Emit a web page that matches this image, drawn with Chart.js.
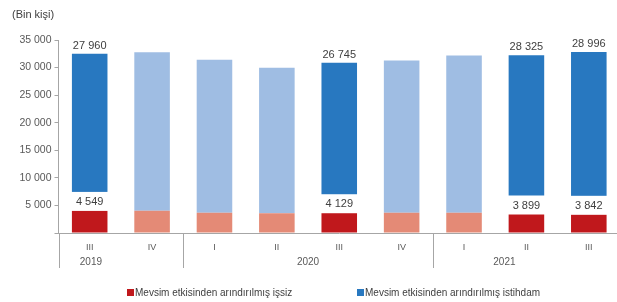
<!DOCTYPE html>
<html>
<head>
<meta charset="utf-8">
<script src="https://cdn.jsdelivr.net/npm/chart.js@4"></script>
<style>
  html, body { margin: 0; padding: 0; background: #fff; }
  #wrap { width: 617px; height: 302px; overflow: hidden; }
  canvas { display: block; }
</style>
</head>
<body>
<div id="wrap"><canvas id="chart" width="622" height="302"></canvas></div>
<script>
// Çeyrekler ve yıllar
const quarters = ["III", "IV", "I", "II", "III", "IV", "I", "II", "III"];
const years = ["2019", "2020", "2021"];
const yearSpans = [2, 4, 3];

// Bin kişi
const unemployed = [4549, 4050, 3650, 3600, 4129, 3650, 3650, 3899, 3842];
const employed = [27960, 28750, 27750, 26350, 26745, 27650, 28550, 28325, 28996];
const labelled = [true, false, false, false, true, false, false, true, true];

const seriesNames = ["Mevsim etkisinden arındırılmış işsiz", "Mevsim etkisinden arındırılmış istihdam"];

const FONT = "'Liberation Sans', Arial, sans-serif";
const TEXT = "#404040";
const LINE = "#a6a6a6";
const darkRed = "#c0181c", lightRed = "#e48a76";
const darkBlue = "#2878c0", lightBlue = "#9fbde3";

const fmt = (n) => String(n).replace(/\B(?=(\d{3})+(?!\d))/g, " ");

// Değer etiketleri (beyaz kutulu alt etiket + üst etiket)
const valueLabels = {
  id: "valueLabels",
  afterDatasetsDraw: (chart) => {
    const ctx = chart.ctx;
    const red = chart.getDatasetMeta(0).data;
    const blue = chart.getDatasetMeta(1).data;
    ctx.save();
    ctx.font = `11px ${FONT}`;
    ctx.textAlign = "center";
    ctx.textBaseline = "middle";
    labelled.forEach((on, i) => {
      if (!on) return;
      const r = red[i];
      const b = blue[i];
      const boxBottom = r.y + 3;
      ctx.fillStyle = "#fff";
      ctx.fillRect(r.x - r.width / 2 - 1, boxBottom - 19, r.width + 2, 19);
      ctx.fillStyle = TEXT;
      ctx.fillText(fmt(unemployed[i]), r.x, boxBottom - 9);
      ctx.fillText(fmt(employed[i]), b.x, b.y - 8);
    });
    ctx.restore();
  }
};

// Yıl grupları, ayraç çizgileri, lejant
const groupsAndLegend = {
  id: "groupsAndLegend",
  afterDraw: (chart) => {
    const ctx = chart.ctx;
    const x = chart.scales.x;
    const area = chart.chartArea;
    const step = x.getPixelForValue(1) - x.getPixelForValue(0);
    ctx.save();
    ctx.strokeStyle = LINE;
    ctx.lineWidth = 1;
    let start = 0;
    const yearShift = [-30, 0, -22];
    years.forEach((yr, g) => {
      const left = x.getPixelForValue(start) - step / 2;
      const right = x.getPixelForValue(start + yearSpans[g] - 1) + step / 2;
      const px = Math.round(left) + 0.5;
      ctx.beginPath();
      ctx.moveTo(px, area.bottom);
      ctx.lineTo(px, area.bottom + 35);
      ctx.stroke();
      ctx.fillStyle = "#595959";
      ctx.font = `10px ${FONT}`;
      ctx.textAlign = "center";
      ctx.textBaseline = "middle";
      ctx.fillText(yr, (left + right) / 2 + yearShift[g], area.bottom + 29);
      start += yearSpans[g];
    });

    // lejant
    const items = [
      { x: 127, color: darkRed, text: seriesNames[0] },
      { x: 357, color: darkBlue, text: seriesNames[1] }
    ];
    ctx.font = `10px ${FONT}`;
    ctx.textAlign = "left";
    items.forEach((it) => {
      ctx.fillStyle = it.color;
      ctx.fillRect(it.x, 289, 7, 7);
      ctx.fillStyle = TEXT;
      ctx.fillText(it.text, it.x + 8, 293);
    });
    ctx.restore();
  }
};

new Chart(document.getElementById("chart"), {
  type: "bar",
  data: {
    labels: quarters,
    datasets: [
      {
        label: seriesNames[0],
        data: unemployed,
        backgroundColor: labelled.map((on) => (on ? darkRed : lightRed))
      },
      {
        label: seriesNames[1],
        data: employed,
        backgroundColor: labelled.map((on) => (on ? darkBlue : lightBlue))
      }
    ]
  },
  options: {
    responsive: false,
    animation: false,
    devicePixelRatio: 1,
    layout: { padding: { left: 12, right: 2, top: 0, bottom: 0 } },
    datasets: { bar: { barPercentage: 0.57, categoryPercentage: 1 } },
    plugins: {
      legend: { display: false },
      tooltip: { enabled: false },
      title: {
        display: true,
        text: "(Bin kişi)",
        align: "start",
        color: TEXT,
        font: { family: FONT, size: 11, weight: "normal" },
        padding: { top: 8, bottom: 18.8 }
      }
    },
    scales: {
      x: {
        stacked: true,
        grid: { display: false },
        border: { display: true, color: LINE },
        ticks: { color: "#595959", font: { family: FONT, size: 9 }, padding: 1 },
        afterFit: (scale) => { scale.height = 69; }
      },
      y: {
        stacked: true,
        min: 0,
        max: 35000,
        grid: { drawOnChartArea: false, drawTicks: true, tickLength: 4, color: LINE },
        border: { display: true, color: LINE },
        ticks: {
          stepSize: 5000,
          padding: 3,
          color: "#595959",
          font: { family: FONT, size: 10.5 },
          callback: (v) => (v === 0 ? "" : fmt(v))
        },
        afterFit: (scale) => { scale.width = 46.5; }
      }
    }
  },
  plugins: [valueLabels, groupsAndLegend]
});
</script>
</body>
</html>
